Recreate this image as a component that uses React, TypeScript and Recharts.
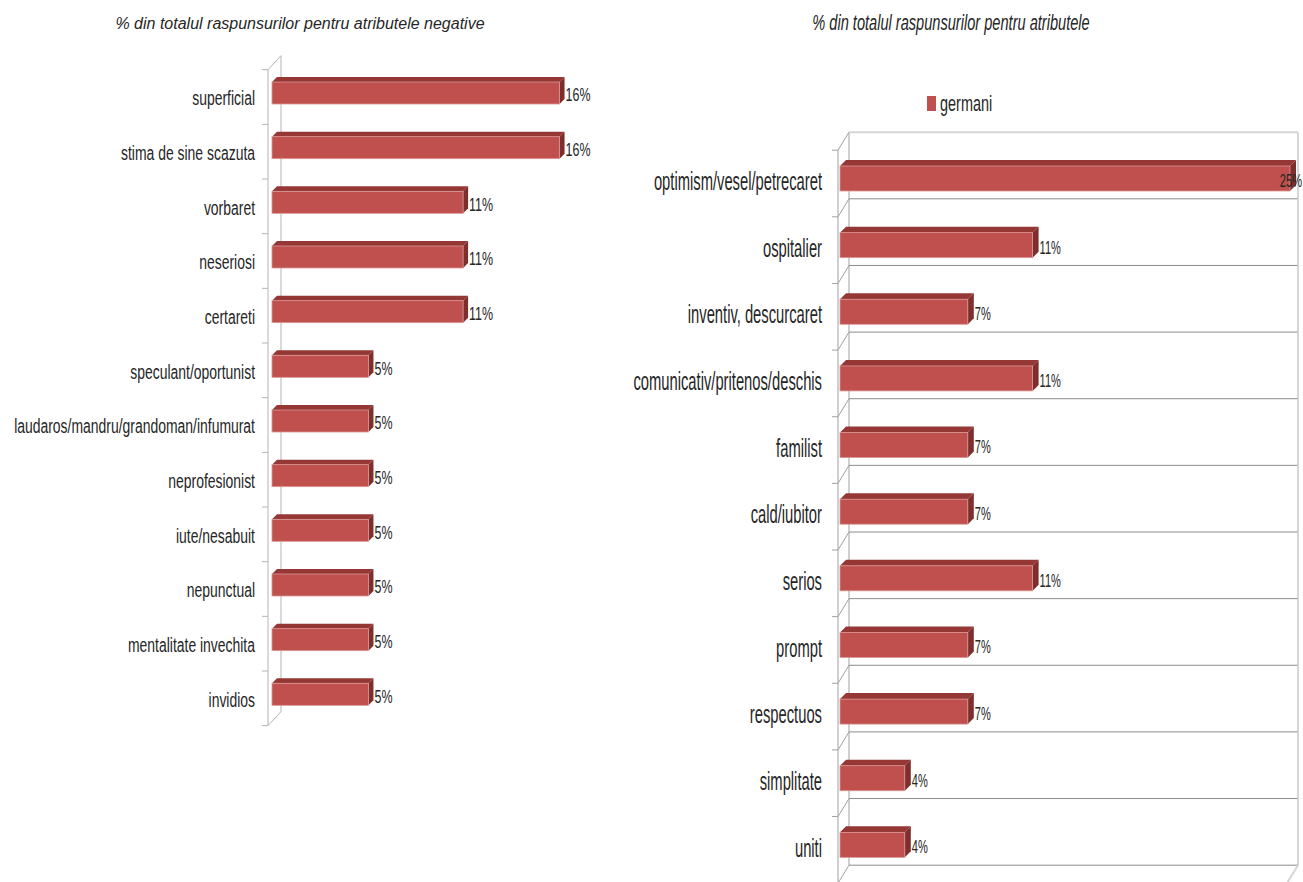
import React from "react";
import { BarChart, Bar, XAxis, YAxis, LabelList } from "recharts";

const negCategories = [
  "superficial",
  "stima de sine scazuta",
  "vorbaret",
  "neseriosi",
  "certareti",
  "speculant/oportunist",
  "laudaros/mandru/grandoman/infumurat",
  "neprofesionist",
  "iute/nesabuit",
  "nepunctual",
  "mentalitate invechita",
  "invidios",
];
const negValues = [15.8, 15.8, 10.5, 10.5, 10.5, 5.3, 5.3, 5.3, 5.3, 5.3, 5.3, 5.3];

const posCategories = [
  "optimism/vesel/petrecaret",
  "ospitalier",
  "inventiv, descurcaret",
  "comunicativ/pritenos/deschis",
  "familist",
  "cald/iubitor",
  "serios",
  "prompt",
  "respectuos",
  "simplitate",
  "uniti",
];
const posValues = [25.0, 10.7, 7.1, 10.7, 7.1, 7.1, 10.7, 7.1, 7.1, 3.6, 3.6];

const leftTitle = "% din totalul raspunsurilor pentru atributele negative";
const rightTitle = "% din totalul raspunsurilor pentru atributele";
const seriesName = "germani";

const negData = negCategories.map((name, i) => ({ name, value: negValues[i] }));
const posData = posCategories.map((name, i) => ({ name, value: posValues[i] }));

const FONT = "'Liberation Sans', Arial, sans-serif";
const FRONT = "#C0504D";
const TOP = "#943735";
const SIDE = "#7E2E2C";
const TEXT = "#262626";

const CHART_H = 882;
const LEFT_W = 640;
const RIGHT_W = 703;
const LEFT_MARGIN = { top: 66, right: 4, bottom: 160, left: 0 };
const RIGHT_MARGIN = { top: 145, right: 13, bottom: 4, left: 0 };

type WallCfg = {
  depth: number;
  frontDx: number;
  backDx: number;
  frontDy: number;
  backDy: number;
  grid: boolean;
  count: number;
  band: number;
};

const make3DShape = (cfg: WallCfg) => (props: any) => {
  const { x, y, width, height, index } = props;
  const bg = props.background || { x, width: 0 };
  const d = cfg.depth;
  const top = y + height / 2 - cfg.band / 2;
  const bottom = top + cfg.band;
  const fx = bg.x + cfg.frontDx;
  const bx = bg.x + cfg.backDx;
  const backRight = bg.x + bg.width + cfg.backDx - 1;
  const isLast = index === cfg.count - 1;
  const axisColor = cfg.grid ? "#A0A0A0" : "#B4B4B4";
  const gridColor = "#8C8C8C";
  const borderColor = "#D6D6D6";
  const elems: any[] = [];
  elems.push(
    <line key="fa" x1={fx} y1={top + cfg.frontDy} x2={fx} y2={bottom + cfg.frontDy} stroke={axisColor} strokeWidth={1} />
  );
  elems.push(
    <line key="ft" x1={fx - 6} y1={top + cfg.frontDy} x2={fx} y2={top + cfg.frontDy} stroke={axisColor} strokeWidth={1} />
  );
  elems.push(
    <line key="ba" x1={bx} y1={top + cfg.backDy} x2={bx} y2={bottom + cfg.backDy} stroke={axisColor} strokeWidth={1} />
  );
  if (cfg.grid || index === 0) {
    elems.push(
      <line key="dg" x1={fx} y1={top + cfg.frontDy} x2={bx} y2={top + cfg.backDy} stroke={axisColor} strokeWidth={1} />
    );
  }
  if (cfg.grid) {
    elems.push(
      <line
        key="hg"
        x1={bx}
        y1={top + cfg.backDy}
        x2={backRight}
        y2={top + cfg.backDy}
        stroke={index === 0 ? borderColor : gridColor}
        strokeWidth={index === 0 ? 2 : 1}
      />
    );
    elems.push(
      <line key="re" x1={backRight} y1={top + cfg.backDy} x2={backRight} y2={bottom + cfg.backDy} stroke={borderColor} strokeWidth={2} />
    );
  }
  if (isLast) {
    elems.push(
      <line key="bt" x1={fx - 6} y1={bottom + cfg.frontDy} x2={fx} y2={bottom + cfg.frontDy} stroke={axisColor} strokeWidth={1} />
    );
    elems.push(
      <line key="bd" x1={fx} y1={bottom + cfg.frontDy} x2={bx} y2={bottom + cfg.backDy} stroke={axisColor} strokeWidth={1} />
    );
    if (cfg.grid) {
      elems.push(
        <line key="bg" x1={bx} y1={bottom + cfg.backDy} x2={backRight} y2={bottom + cfg.backDy} stroke={gridColor} strokeWidth={1} />
      );
      elems.push(
        <line
          key="fr"
          x1={backRight}
          y1={bottom + cfg.backDy}
          x2={backRight - (cfg.backDx - cfg.frontDx)}
          y2={bottom + cfg.frontDy}
          stroke={borderColor}
          strokeWidth={2}
        />
      );
    }
  }
  return (
    <g>
      {elems}
      <polygon points={`${x},${y} ${x + d},${y - d} ${x + width + d},${y - d} ${x + width},${y}`} fill={TOP} />
      <polygon
        points={`${x + width},${y} ${x + width + d},${y - d} ${x + width + d},${y + height - d} ${x + width},${y + height}`}
        fill={SIDE}
      />
      <rect x={x} y={y} width={width} height={height} fill={FRONT} stroke="#D99694" strokeWidth={0.8} />
    </g>
  );
};

const makeTick = (fontSize: number, sx: number, sy: number, dy: number) => (props: any) => {
  const { x, y, payload } = props;
  return (
    <g transform={`translate(${x},${y + dy}) scale(${sx},${sy})`}>
      <text x={0} y={0} dy="0.35em" textAnchor="end" fill={TEXT} fontSize={fontSize} fontFamily={FONT}>
        {payload.value}
      </text>
    </g>
  );
};

const makeValueLabel = (fontSize: number, sx: number, sy: number, dy: number, d: number, maxX: number) => (props: any) => {
  const { x, y, width, height, value } = props;
  const txt = `${Math.round(Number(value))}%`;
  const estW = (txt.length - 1) * fontSize * 0.556 * sx + fontSize * 0.889 * sx;
  let lx = x + width + d + 1;
  if (lx + estW > maxX - 1) lx = maxX - 1 - estW;
  return (
    <g transform={`translate(${lx},${y + height / 2 + dy}) scale(${sx},${sy})`}>
      <text x={0} y={0} dy="0.35em" textAnchor="start" fill={TEXT} fontSize={fontSize} fontFamily={FONT}>
        {txt}
      </text>
    </g>
  );
};

const leftBand = (CHART_H - LEFT_MARGIN.top - LEFT_MARGIN.bottom) / negData.length;
const rightBand = (CHART_H - RIGHT_MARGIN.top - RIGHT_MARGIN.bottom) / posData.length;

const leftShape = make3DShape({
  depth: 5,
  frontDx: -4,
  backDx: 9,
  frontDy: 4,
  backDy: -10,
  grid: false,
  count: negData.length,
  band: leftBand,
});
const rightShape = make3DShape({
  depth: 6,
  frontDx: -2,
  backDx: 9,
  frontDy: 5,
  backDy: -13,
  grid: true,
  count: posData.length,
  band: rightBand,
});

export default function App() {
  return (
    <div style={{ position: "absolute", left: 0, top: 0, width: 1303, height: 882, background: "#fff", overflow: "hidden" }}>
      <div
        style={{
          position: "absolute",
          left: 0,
          width: 600,
          top: 15,
          textAlign: "center",
          fontFamily: FONT,
          fontStyle: "italic",
          fontSize: 16,
          lineHeight: "18px",
          color: TEXT,
          whiteSpace: "nowrap",
        }}
      >
        {leftTitle}
      </div>
      <div
        style={{
          position: "absolute",
          left: 751,
          width: 400,
          top: 17,
          textAlign: "center",
          fontFamily: FONT,
          fontStyle: "italic",
          fontSize: 14.6,
          lineHeight: "17px",
          color: TEXT,
          whiteSpace: "nowrap",
          transform: "scaleY(1.45)",
          transformOrigin: "50% 13px",
        }}
      >
        {rightTitle}
      </div>
      <div style={{ position: "absolute", left: 927, top: 95, display: "flex", alignItems: "center" }}>
        <div style={{ width: 9, height: 15, background: FRONT }} />
        <div
          style={{
            marginLeft: 4,
            fontFamily: FONT,
            fontSize: 17,
            color: TEXT,
            transform: "scale(0.85, 1.28)",
            transformOrigin: "left center",
            lineHeight: "17px",
            whiteSpace: "nowrap",
          }}
        >
          {seriesName}
        </div>
      </div>

      <div style={{ position: "absolute", left: 0, top: 0 }}>
        <BarChart width={LEFT_W} height={CHART_H} data={negData} layout="vertical" margin={LEFT_MARGIN}>
          <XAxis type="number" hide domain={[0, 20]} />
          <YAxis
            type="category"
            dataKey="name"
            width={272}
            axisLine={false}
            tickLine={false}
            tickSize={0}
            tickMargin={17}
            interval={0}
            tick={makeTick(17, 0.82, 1.15, 5)}
          />
          <Bar dataKey="value" barSize={22} isAnimationActive={false} shape={leftShape}>
            <LabelList dataKey="value" content={makeValueLabel(15, 0.83, 1.2, 2, 5, LEFT_W)} />
          </Bar>
        </BarChart>
      </div>

      <div style={{ position: "absolute", left: 600, top: 0 }}>
        <BarChart width={RIGHT_W} height={CHART_H} data={posData} layout="vertical" margin={RIGHT_MARGIN}>
          <XAxis type="number" hide domain={[0, 25]} />
          <YAxis
            type="category"
            dataKey="name"
            width={240}
            axisLine={false}
            tickLine={false}
            tickSize={0}
            tickMargin={18}
            interval={0}
            tick={makeTick(18, 0.82, 1.4, 3)}
          />
          <Bar dataKey="value" barSize={25} isAnimationActive={false} shape={rightShape}>
            <LabelList dataKey="value" content={makeValueLabel(14, 0.79, 1.3, 2, 6, RIGHT_W)} />
          </Bar>
        </BarChart>
      </div>
    </div>
  );
}
